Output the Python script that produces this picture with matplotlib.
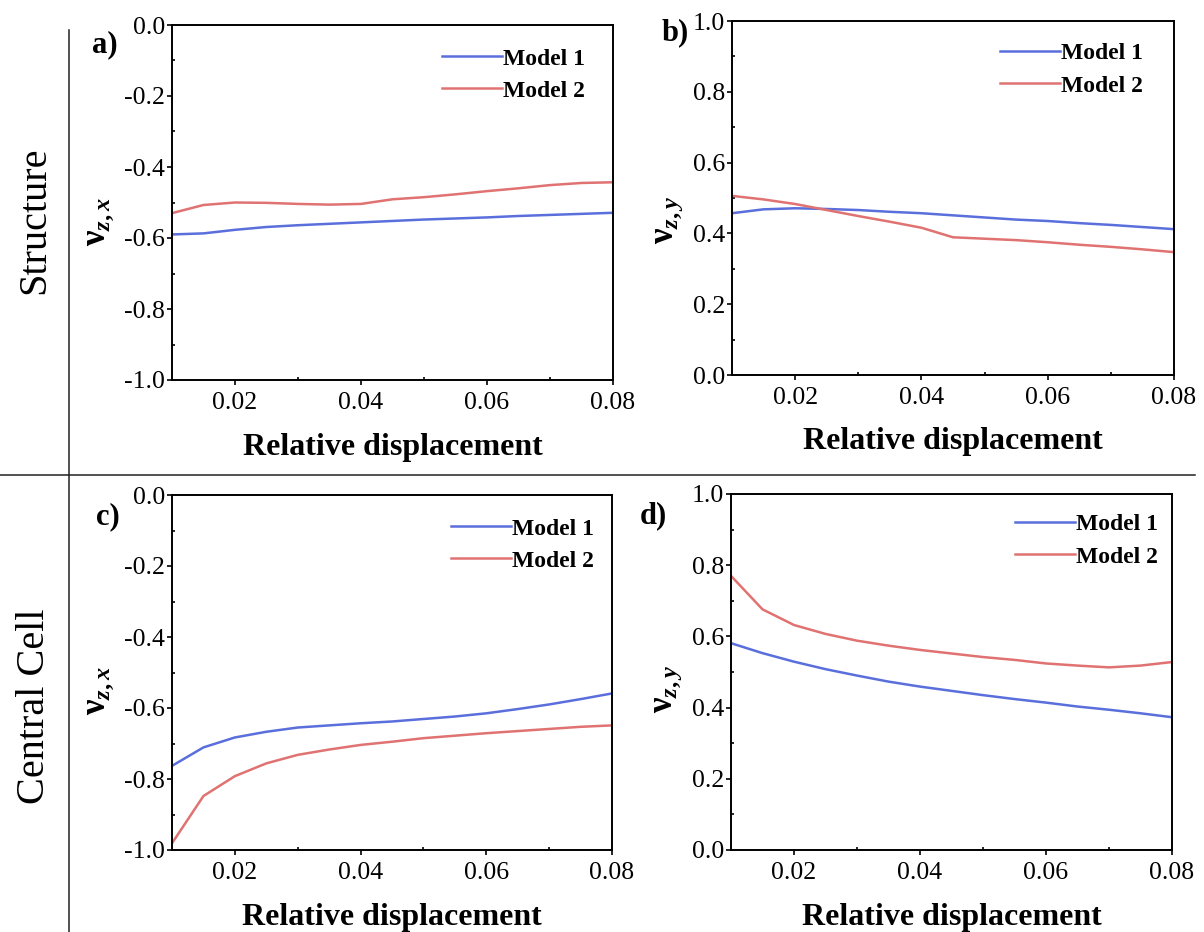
import matplotlib
matplotlib.use("Agg")
import matplotlib.pyplot as plt
from matplotlib.ticker import FixedLocator, FormatStrFormatter
from matplotlib.lines import Line2D

plt.rcParams['font.family'] = ['Liberation Serif', 'DejaVu Serif']
plt.rcParams['axes.unicode_minus'] = False
plt.rcParams['mathtext.fontset'] = 'custom'
plt.rcParams['mathtext.rm'] = 'Liberation Serif:bold'
plt.rcParams['mathtext.bf'] = 'Liberation Serif:bold'
plt.rcParams['mathtext.it'] = 'Liberation Serif:italic:bold'

# Relative displacement samples shared by all panels
disp = [0.010, 0.015, 0.020, 0.025, 0.030, 0.035, 0.040, 0.045,
        0.050, 0.055, 0.060, 0.065, 0.070, 0.075, 0.080]

# a) Structure, nu_zx
struct_zx_m1 = [-0.590, -0.587, -0.577, -0.569, -0.564, -0.560, -0.556, -0.552,
                -0.548, -0.545, -0.542, -0.538, -0.535, -0.532, -0.529]
struct_zx_m2 = [-0.530, -0.507, -0.500, -0.501, -0.504, -0.506, -0.504, -0.491,
                -0.485, -0.477, -0.468, -0.460, -0.451, -0.445, -0.443]

# b) Structure, nu_zy
struct_zy_m1 = [0.457, 0.468, 0.471, 0.469, 0.466, 0.461, 0.457, 0.451,
                0.445, 0.439, 0.435, 0.429, 0.424, 0.418, 0.412]
struct_zy_m2 = [0.506, 0.496, 0.483, 0.466, 0.449, 0.433, 0.416, 0.389,
                0.385, 0.381, 0.375, 0.368, 0.362, 0.355, 0.347]

# c) Central cell, nu_zx
cell_zx_m1 = [-0.763, -0.711, -0.683, -0.667, -0.655, -0.649, -0.643, -0.638,
              -0.631, -0.624, -0.615, -0.603, -0.590, -0.575, -0.559]
cell_zx_m2 = [-0.981, -0.848, -0.792, -0.756, -0.732, -0.717, -0.704, -0.695,
              -0.685, -0.678, -0.671, -0.665, -0.659, -0.653, -0.649]

# d) Central cell, nu_zy
cell_zy_m1 = [0.581, 0.553, 0.529, 0.508, 0.490, 0.473, 0.459, 0.447,
              0.435, 0.424, 0.414, 0.403, 0.394, 0.384, 0.373]
cell_zy_m2 = [0.770, 0.676, 0.632, 0.607, 0.588, 0.574, 0.562, 0.552,
              0.542, 0.534, 0.524, 0.518, 0.513, 0.518, 0.528]

series_labels = ['Model 1', 'Model 2']
panel_letters = ['a)', 'b)', 'c)', 'd)']
row_titles = ['Structure', 'Central Cell']
x_label = 'Relative displacement'
y_labels = [r'$\mathbf{\nu}_{\mathit{z,x}}$', r'$\mathbf{\nu}_{\mathit{z,y}}$',
            r'$\mathbf{\nu}_{\mathit{z,x}}$', r'$\mathbf{\nu}_{\mathit{z,y}}$']
x_major = [0.02, 0.04, 0.06, 0.08]
x_minor = [0.03, 0.05, 0.07]

BLUE = '#5a6fdc'
RED = '#e07272'

W, H = 1204, 932
fig = plt.figure(figsize=(W / 100, H / 100), dpi=100)


def frac_box(l, t, r, b):
    return [l / W, 1 - b / H, (r - l) / W, (b - t) / H]


boxes = [frac_box(172, 25, 613, 380), frac_box(732, 21, 1174, 375),
         frac_box(172, 495, 612, 850), frac_box(731, 494, 1172, 850)]

panels = [
    (struct_zx_m1, struct_zx_m2, (-1.0, 0.0)),
    (struct_zy_m1, struct_zy_m2, (0.0, 1.0)),
    (cell_zx_m1, cell_zx_m2, (-1.0, 0.0)),
    (cell_zy_m1, cell_zy_m2, (0.0, 1.0)),
]

legend_anchor = [(0.612, 0.935), (0.606, 0.938), (0.634, 0.935), (0.644, 0.944)]
ylabel_pos = [(-0.165, 0.445), (-0.143, 0.438), (-0.165, 0.450), (-0.143, 0.452)]
letter_pos = [(105, 45), (675, 33), (108, 517), (653, 516)]

for i, (m1, m2, ylim) in enumerate(panels):
    ax = fig.add_axes(boxes[i])
    ax.plot(disp, m1, color=BLUE, lw=1.8, label=series_labels[0])
    ax.plot(disp, m2, color=RED, lw=1.8, label=series_labels[1])
    ax.set_xlim(0.01, 0.08)
    ax.set_ylim(*ylim)
    lo, hi = ylim
    ax.yaxis.set_major_locator(FixedLocator([lo + 0.2 * k for k in range(6)]))
    ax.yaxis.set_minor_locator(FixedLocator([lo + 0.1 + 0.2 * k for k in range(5)]))
    ax.xaxis.set_major_locator(FixedLocator(x_major))
    ax.xaxis.set_minor_locator(FixedLocator(x_minor))
    ax.yaxis.set_major_formatter(FormatStrFormatter('%.1f'))
    ax.xaxis.set_major_formatter(FormatStrFormatter('%.2f'))
    for s in ax.spines.values():
        s.set_linewidth(1.4)
    ax.tick_params(which='major', direction='out', length=3.5, width=1.2,
                   labelsize=18.5)
    ax.tick_params(which='minor', direction='in', length=2.5, width=1.2)
    ax.tick_params(axis='y', which='major', pad=1.5)
    ax.tick_params(axis='x', which='major', pad=5)

    ax.set_xlabel(x_label, fontsize=23, fontweight='bold', va='center')
    ax.xaxis.set_label_coords(0.5, -67 / 355)
    ax.set_ylabel(y_labels[i], fontsize=25, va='center', ha='center')
    ax.yaxis.set_label_coords(*ylabel_pos[i])

    ax.legend(loc='upper left', bbox_to_anchor=legend_anchor[i], frameon=False,
              borderpad=0, borderaxespad=0, handlelength=2.55,
              handletextpad=0.05, labelspacing=0.45,
              prop={'weight': 'bold', 'size': 17})

    lx, ly = letter_pos[i]
    fig.text(lx / W, 1 - ly / H, panel_letters[i], fontsize=22,
             fontweight='bold', ha='center', va='center')

# Row titles on the left
fig.text(35 / W, 1 - 220 / H, row_titles[0], fontsize=29, rotation=90,
         ha='center', va='center')
fig.text(35 / W, 1 - 706 / H, row_titles[1], fontsize=29, rotation=90,
         ha='center', va='center')

# Divider lines between rows and the title column
fig.add_artist(Line2D([69 / W, 69 / W], [1 - 30 / H, 0], color='#222222', lw=1.1))
fig.add_artist(Line2D([0, 1195 / W], [1 - 475 / H, 1 - 475 / H], color='#222222', lw=1.1))

fig.savefig('out.png', dpi=100)
